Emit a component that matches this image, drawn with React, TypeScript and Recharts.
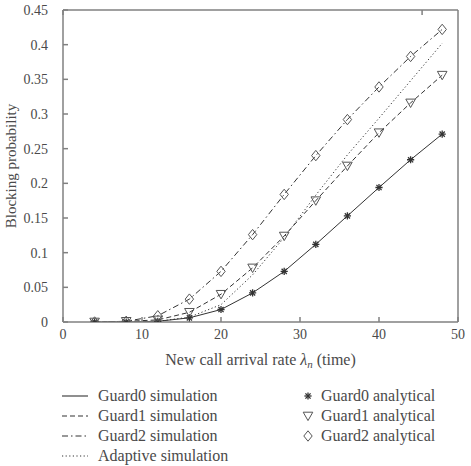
import { ComposedChart, Legend, Line, XAxis, YAxis } from "recharts";

const lambda = [4, 8, 12, 16, 20, 24, 28, 32, 36, 40, 44, 48];
const guard0 = [0, 0, 0.001, 0.006, 0.018, 0.042, 0.073, 0.112, 0.153, 0.194, 0.234, 0.271];
const guard1 = [0, 0.001, 0.003, 0.014, 0.04, 0.078, 0.124, 0.175, 0.225, 0.273, 0.316, 0.356];
const guard2 = [0, 0.001, 0.009, 0.033, 0.073, 0.126, 0.184, 0.24, 0.292, 0.339, 0.383, 0.422];
const adaptive = [0, 0, 0.001, 0.007, 0.025, 0.068, 0.122, 0.183, 0.241, 0.294, 0.348, 0.402];

const xTicks = [0, 10, 20, 30, 40, 50];
const yTicks = [0, 0.05, 0.1, 0.15, 0.2, 0.25, 0.3, 0.35, 0.4, 0.45];

const data = lambda.map((x, i) => ({
  x,
  guard0: guard0[i],
  guard1: guard1[i],
  guard2: guard2[i],
  adaptive: adaptive[i],
}));

const FONT = "Liberation Serif, DejaVu Serif, serif";
const AXIS = "#808080";
const TEXT = "#4a4a4a";
const LINE = "#333";
const MARK = "#555";

const Asterisk = ({ cx, cy }: any) => {
  if (cx == null || cy == null) return null;
  const r = 3.6;
  const d = r * 0.72;
  return (
    <g stroke={LINE} strokeWidth={1.3}>
      <line x1={cx - r} y1={cy} x2={cx + r} y2={cy} />
      <line x1={cx} y1={cy - r} x2={cx} y2={cy + r} />
      <line x1={cx - d} y1={cy - d} x2={cx + d} y2={cy + d} />
      <line x1={cx - d} y1={cy + d} x2={cx + d} y2={cy - d} />
    </g>
  );
};

const TriDown = ({ cx, cy }: any) => {
  if (cx == null || cy == null) return null;
  return (
    <polygon
      points={`${cx - 4.8},${cy - 3.8} ${cx + 4.8},${cy - 3.8} ${cx},${cy + 4.6}`}
      fill="none"
      stroke={MARK}
      strokeWidth={1}
    />
  );
};

const Diamond = ({ cx, cy }: any) => {
  if (cx == null || cy == null) return null;
  return (
    <polygon
      points={`${cx},${cy - 5.2} ${cx + 4.2},${cy} ${cx},${cy + 5.2} ${cx - 4.2},${cy}`}
      fill="none"
      stroke={MARK}
      strokeWidth={1}
    />
  );
};

const XLabel = ({ viewBox }: any) => {
  const { x, y, width } = viewBox;
  return (
    <text x={x + width / 2} y={y + 43} textAnchor="middle" fontFamily={FONT} fontSize={16} fill={TEXT}>
      New call arrival rate{" "}
      <tspan fontStyle="italic">λ</tspan>
      <tspan fontStyle="italic" fontSize={11} dy={3}>n</tspan>
      <tspan dy={-3}> (time)</tspan>
    </text>
  );
};

const YLabel = () => (
  <text
    x={11}
    y={166}
    transform="rotate(-90 11 166)"
    textAnchor="middle"
    dominantBaseline="central"
    fontFamily={FONT}
    fontSize={15}
    fill={TEXT}
  >
    Blocking probability
  </text>
);

const lineItems = [
  { name: "Guard0 simulation", dash: "" },
  { name: "Guard1 simulation", dash: "5 3" },
  { name: "Guard2 simulation", dash: "6 3 1.5 3" },
  { name: "Adaptive simulation", dash: "1.2 2.4" },
];
const markItems = [
  { name: "Guard0 analytical", Shape: Asterisk },
  { name: "Guard1 analytical", Shape: TriDown },
  { name: "Guard2 analytical", Shape: Diamond },
];

const LegendBox = () => (
  <div style={{ position: "relative", width: 471, height: 94, fontFamily: FONT, fontSize: 16, color: TEXT }}>
    {lineItems.map((it, i) => (
      <div key={it.name} style={{ position: "absolute", left: 62, top: 14 + i * 20, height: 20, display: "flex", alignItems: "center" }}>
        <svg width={26} height={20}>
          <line x1={0} y1={10} x2={26} y2={10} stroke={LINE} strokeWidth={1.1} strokeDasharray={it.dash} />
        </svg>
        <span style={{ marginLeft: 10, whiteSpace: "nowrap" }}>{it.name}</span>
      </div>
    ))}
    {markItems.map((it, i) => (
      <div key={it.name} style={{ position: "absolute", left: 300, top: 14 + i * 20, height: 20, display: "flex", alignItems: "center" }}>
        <svg width={16} height={20}>
          <it.Shape cx={8} cy={10} />
        </svg>
        <span style={{ marginLeft: 5, whiteSpace: "nowrap" }}>{it.name}</span>
      </div>
    ))}
  </div>
);

const tickStyle = { fontFamily: FONT, fontSize: 14, fill: TEXT };

const App = () => {
  return (
    <div style={{ position: "absolute", left: 0, top: 0, width: 471, height: 466, background: "#fff" }}>
      <ComposedChart width={471} height={466} data={data} margin={{ top: 10, right: 13, left: 18, bottom: 0 }}>
        <XAxis
          dataKey="x"
          type="number"
          domain={[0, 50]}
          ticks={xTicks}
          height={50}
          tickSize={-5}
          tickMargin={12}
          stroke={AXIS}
          strokeWidth={1.5}
          tick={tickStyle}
          label={<XLabel />}
        />
        <XAxis
          xAxisId="top"
          orientation="top"
          mirror
          type="number"
          domain={[0, 50]}
          ticks={xTicks}
          tickSize={5}
          stroke={AXIS}
          strokeWidth={1.5}
          tickFormatter={() => ""}
        />
        <YAxis
          domain={[0, 0.45]}
          ticks={yTicks}
          width={45}
          tickSize={-5}
          tickMargin={20}
          stroke={AXIS}
          strokeWidth={1.5}
          tick={tickStyle}
          allowDataOverflow
          label={<YLabel />}
        />
        <YAxis
          yAxisId="right"
          orientation="right"
          mirror
          domain={[0, 0.45]}
          ticks={yTicks}
          tickSize={5}
          stroke={AXIS}
          strokeWidth={1.5}
          tickFormatter={() => ""}
        />
        <Legend verticalAlign="bottom" wrapperStyle={{ left: 0, width: 471 }} content={() => <LegendBox />} />
        <Line dataKey="adaptive" type="linear" stroke={LINE} strokeWidth={1} strokeDasharray="1.2 2.4" dot={false} isAnimationActive={false} />
        <Line dataKey="guard0" type="linear" stroke={LINE} strokeWidth={1} dot={false} isAnimationActive={false} />
        <Line dataKey="guard1" type="linear" stroke={LINE} strokeWidth={1} strokeDasharray="5 3" dot={false} isAnimationActive={false} />
        <Line dataKey="guard2" type="linear" stroke={LINE} strokeWidth={1} strokeDasharray="6 3 1.5 3" dot={false} isAnimationActive={false} />
        <Line dataKey="guard0" name="g0a" stroke="none" dot={<Asterisk />} isAnimationActive={false} />
        <Line dataKey="guard1" name="g1a" stroke="none" dot={<TriDown />} isAnimationActive={false} />
        <Line dataKey="guard2" name="g2a" stroke="none" dot={<Diamond />} isAnimationActive={false} />
      </ComposedChart>
    </div>
  );
};

export default App;
